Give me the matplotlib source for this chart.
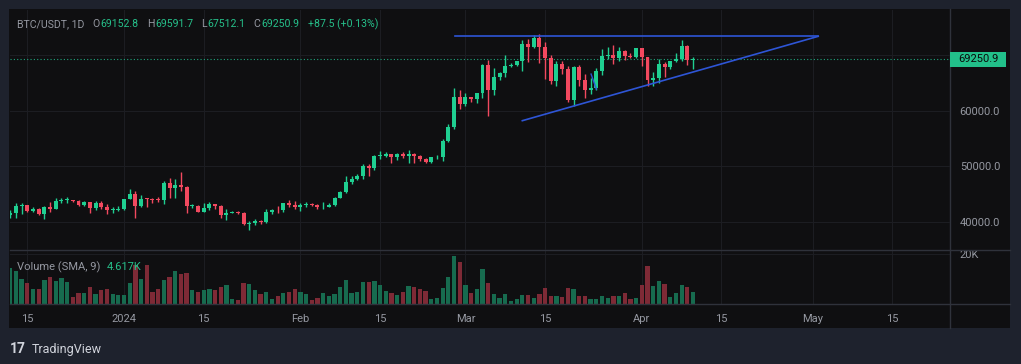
import pandas as pd
import matplotlib.pyplot as plt
import matplotlib.dates as mdates
import matplotlib.transforms as mtrans
from matplotlib.patches import Rectangle

plt.rcParams['font.family'] = ['Roboto', 'DejaVu Sans']

# daily candles, BTC/USDT, 2023-12-12 .. 2024-04-10
dates = pd.date_range('2023-12-12', '2024-04-10', freq='D')

opens = [41240, 41480, 42880, 43020, 41930, 42240, 41360, 42660, 42260, 43650,
         43860, 43990, 43730, 43010, 43580, 42510, 43450, 42580, 42070, 42140,
         42280, 44180, 44960, 42850, 44150, 44130, 43970, 43930, 46970, 46110,
         46630, 46340, 42780, 42840, 41730, 42510, 43140, 42760, 41260, 41620,
         41665, 41545, 39500, 39850, 40080, 39930, 41820, 42120, 42030, 43300,
         42940, 42580, 43080, 43200, 43010, 42580, 42660, 43090, 44340, 45290,
         47130, 47750, 48290, 49960, 49700, 51800, 51920, 52160, 51660, 52120,
         51780, 52280, 51840, 51300, 50730, 51570, 51730, 54480, 57040, 62430,
         61130, 62390, 62030, 63130, 68250, 63720, 66070, 66820, 68120, 68310,
         68950, 72100, 71450, 73070, 71390, 69500, 65300, 68390, 67550, 61930,
         67840, 65500, 63780, 64040, 67210, 69880, 69990, 69450, 70740, 69890,
         69640, 71330, 69700, 65460, 65960, 68500, 67840, 68900, 69360, 71620,
         69152.8]
highs = [42100, 43430, 43420, 43090, 42700, 42420, 42750, 43480, 44280, 44240,
         44400, 44000, 43950, 43800, 43600, 43680, 43800, 43120, 42600, 42900,
         44180, 45880, 45500, 44730, 44340, 44230, 44500, 47250, 47900, 47700,
         48970, 46500, 43260, 43070, 43400, 43570, 43200, 42930, 42200, 41870,
         41850, 41680, 40130, 40550, 40290, 42200, 42200, 42840, 43300, 43880,
         43750, 43290, 43480, 43380, 43120, 43500, 43400, 44380, 45610, 48200,
         48170, 48590, 50330, 50370, 52040, 52820, 52580, 52190, 52370, 52490,
         52990, 52380, 52030, 51550, 51680, 51950, 54940, 57550, 64000, 63680,
         63110, 62430, 63230, 68500, 69170, 67640, 67000, 70120, 68590, 69000,
         72800, 72900, 73650, 73777, 72360, 70040, 68900, 68900, 68100, 68100,
         68240, 66650, 65970, 67620, 71150, 71560, 71770, 71550, 70920, 70350,
         71370, 71370, 69700, 66900, 69290, 68720, 69000, 70330, 72800, 71760,
         69591.7]
lows = [40680, 40600, 41400, 41660, 41700, 41250, 40500, 41800, 42200, 43300,
        43400, 43580, 42750, 42760, 41650, 42100, 42300, 41300, 41520, 41960,
        42170, 44150, 40750, 42620, 42600, 43420, 43560, 43180, 44300, 44300,
        45600, 41500, 42440, 41720, 41720, 42050, 42200, 40680, 40280, 41500,
        41440, 39430, 38550, 39480, 39530, 39820, 41400, 41620, 41800, 42680,
        42280, 41880, 42580, 42890, 42220, 42260, 42570, 42790, 44330, 45240,
        46800, 47560, 47700, 48300, 49250, 51300, 51600, 50630, 51170, 51520,
        50520, 50620, 50930, 50530, 50590, 51280, 50900, 54450, 56690, 60360,
        60770, 61600, 61320, 62300, 59000, 62790, 65550, 66100, 67950, 68050,
        67200, 68800, 71330, 68550, 65630, 64780, 64520, 66600, 61500, 60770,
        64530, 62260, 63000, 63800, 66380, 69280, 68370, 68900, 69050, 69530,
        69550, 68060, 64500, 64490, 65070, 66010, 67450, 68850, 69040, 68210,
        67512.1]
closes = [41480, 42880, 43020, 41930, 42240, 41360, 42660, 42260, 43650, 43860,
          43990, 43730, 43010, 43580, 42510, 43450, 42580, 42070, 42140, 42280,
          44180, 44960, 42850, 44150, 44130, 43970, 43930, 46970, 46110, 46630,
          46340, 42780, 42840, 41730, 42510, 43140, 42760, 41260, 41620, 41665,
          41545, 39500, 39850, 40080, 39930, 41820, 42120, 42030, 43300, 42940,
          42580, 43080, 43200, 43010, 42580, 42660, 43090, 44340, 45290, 47130,
          47750, 48290, 49960, 49700, 51800, 51920, 52160, 51660, 52120, 51780,
          52280, 51840, 51300, 50730, 51570, 51730, 54480, 57040, 62430, 61130,
          62390, 62030, 63130, 68250, 63720, 66070, 66820, 68120, 68310, 68950,
          72100, 71450, 73070, 71390, 69500, 65300, 68390, 67550, 61930, 67840,
          65500, 63780, 64040, 67210, 69880, 69990, 69450, 70740, 69890, 69640,
          71330, 69700, 65460, 65960, 68500, 67840, 68900, 69360, 71620, 69150,
          69250.9]
# volume in thousands
volumes = [14.3, 13.2, 10.0, 8.4, 6.0, 6.0, 9.6, 10.9, 9.2, 10.3,
           8.8, 2.9, 4.4, 4.4, 6.7, 4.0, 5.5, 6.0, 4.0, 3.6,
           3.5, 8.5, 15.6, 10.0, 15.6, 4.7, 5.9, 9.5, 10.7, 13.3,
           11.9, 12.3, 5.5, 4.9, 5.5, 6.0, 5.5, 6.8, 7.6, 2.0,
           1.6, 8.3, 8.0, 5.6, 4.1, 4.9, 1.9, 3.2, 4.4, 4.7,
           5.9, 4.9, 4.1, 1.6, 2.5, 4.4, 3.3, 4.0, 6.8, 9.5,
           4.3, 4.8, 8.8, 8.8, 9.2, 7.6, 5.2, 4.3, 3.6, 4.7,
           7.2, 6.9, 5.9, 5.2, 2.1, 2.4, 6.4, 10.7, 19.2, 17.0,
           7.6, 4.5, 5.9, 14.0, 8.5, 4.0, 2.4, 3.9, 1.2, 2.0,
           3.6, 3.6, 2.4, 4.0, 6.4, 3.3, 3.3, 2.9, 6.4, 5.9,
           3.3, 3.3, 2.1, 1.9, 3.3, 2.4, 3.1, 3.1, 4.3, 1.9,
           2.4, 7.6, 15.2, 7.2, 9.2, 7.9, 2.8, 4.3, 7.6, 6.9,
           4.617]

tick_dates = ['2023-12-15', '2024-01-01', '2024-01-15', '2024-02-01', '2024-02-15',
              '2024-03-01', '2024-03-15', '2024-04-01', '2024-04-15', '2024-05-01',
              '2024-05-15']
tick_labels = ['15', '2024', '15', 'Feb', '15', 'Mar', '15', 'Apr', '15', 'May', '15']
price_ticks = [40000, 50000, 60000, 70000]
price_labels = ['40000.0', '50000.0', '60000.0', '']  # 70000.0 sits under the last-price tag

# drawn trend lines (triangle)
top_line_dates = ['2024-02-28 06:00', '2024-05-02 00:00']
top_line_prices = [73400, 73400]
low_line_dates = ['2024-03-11 00:00', '2024-05-02 00:00']
low_line_prices = [58200, 73400]
stray_line_dates = ['2024-03-23 02:00', '2024-03-24 00:00']
stray_line_prices = [66600, 63900]

UP = '#1fcf91'
DOWN = '#f2495f'
VUP = '#176b4f'
VDOWN = '#7e2a36'
GRID = '#1c1d22'
SEP = '#2f323b'
TXT = '#9598a1'
OUTER = '#1e222d'
PANEL = '#0f0f11'

W, H = 1021, 364
fig = plt.figure(figsize=(W / 100, H / 100), dpi=100, facecolor=OUTER)

# chart panel background
fig.patches.append(Rectangle((9 / W, 1 - 328 / H), 1001 / W, 319 / H,
                             transform=fig.transFigure, fc=PANEL, ec='none', zorder=-5))

ax = fig.add_axes([10 / W, 1 - 250 / H, 940 / W, 240 / H], zorder=2)
axv = fig.add_axes([10 / W, 1 - 304 / H, 940 / W, 54 / H], sharex=ax, zorder=1)

x = mdates.date2num(dates)
colors = [UP if c >= o else DOWN for o, c in zip(opens, closes)]
vcolors = [VUP if c >= o else VDOWN for o, c in zip(opens, closes)]
bottoms = [min(o, c) for o, c in zip(opens, closes)]
heights = [max(abs(c - o), 150) for o, c in zip(opens, closes)]

ax.vlines(x, lows, highs, colors=colors, lw=1.0, zorder=3)
ax.bar(x, heights, bottom=bottoms, width=0.7, color=colors, zorder=4)

axv.bar(x, volumes, width=0.75, color=vcolors, zorder=3)


def dnum(lst):
    return mdates.date2num(pd.to_datetime(lst, format='%Y-%m-%d %H:%M'))


# trend lines
ax.plot(dnum(top_line_dates), top_line_prices, color='#2e55d6', lw=1.2, zorder=5)
ax.plot(dnum(low_line_dates), low_line_prices, color='#2e55d6', lw=1.2, zorder=5)
ax.plot(dnum(stray_line_dates), stray_line_prices, color='#2e55d6', lw=1.0, zorder=5)

# last price line + label
last = closes[-1]
ax.axhline(last, color='#1fa57d', ls=(0, (1, 2)), lw=0.8, zorder=2)
blend = mtrans.blended_transform_factory(ax.transAxes, ax.transData)
ppx = (78144 - 34901) / 240
ax.add_patch(Rectangle((1.0, last - 7.5 * ppx), 56 / 940, 15 * ppx, transform=blend,
                       fc='#22c08a', ec='none', clip_on=False, zorder=10))
ax.text(1.0 + 28 / 940, last, f'{last:.1f}', transform=blend, ha='center', va='center',
        fontsize=8, color='#0b0b0b', zorder=11, clip_on=False)

# axes limits
left = mdates.date2num(pd.Timestamp('2023-12-15')) - 3.04
ax.set_xlim(left, left + 940 / 5.69)
ax.set_ylim(34901, 78144)
axv.set_ylim(0, 21.6)

for a in (ax, axv):
    a.patch.set_visible(False)
    for s in a.spines.values():
        s.set_visible(False)
    a.grid(True, color=GRID, lw=0.8, zorder=0)
    a.set_axisbelow(True)
    a.tick_params(length=0)

axv.set_xticks(dnum([d + ' 00:00' for d in tick_dates]))
axv.set_xticklabels(tick_labels)
axv.tick_params(axis='x', colors=TXT, labelsize=8, pad=7)
ax.tick_params(axis='x', labelbottom=False)

ax.set_yticks(price_ticks)
ax.set_yticklabels(price_labels)
ax.yaxis.tick_right()
ax.tick_params(axis='y', colors=TXT, labelsize=8, pad=7)

axv.set_yticks([20])
axv.set_yticklabels(['20K'])
axv.yaxis.tick_right()
axv.tick_params(axis='y', colors=TXT, labelsize=8, pad=7)

# separators
for yy in (250, 304):
    fig.add_artist(plt.Line2D([10 / W, 1010 / W], [1 - yy / H, 1 - yy / H],
                              color=SEP, lw=1.0))
fig.add_artist(plt.Line2D([950 / W, 950 / W], [1 - 9 / H, 1 - 328 / H], color=SEP, lw=1.0))


def ftext(px, py, s, **kw):
    kw.setdefault('fontsize', 8)
    return fig.text(px / W, 1 - py / H, s, va='center', ha='left', **kw)


def after(prev, s, gap, **kw):
    # place text right after the previous one
    kw.setdefault('fontsize', 8)
    return fig.add_artist(plt.Annotation(s, xy=(1, 0.5), xycoords=prev, xytext=(gap, 0),
                                         textcoords='offset pixels', va='center',
                                         ha='left', annotation_clip=False, **kw))


GREEN_T = '#26c08a'
HS = 7.6
t = ftext(17, 24, 'BTC/USDT, 1D', color=TXT, fontsize=HS)
for letter, val in [('O', '69152.8'), ('H', '69591.7'), ('L', '67512.1'), ('C', '69250.9')]:
    t = after(t, letter, 8, color=TXT, fontsize=HS)
    t = after(t, val, 1, color=GREEN_T, fontsize=HS)
after(t, '+87.5 (+0.13%)', 8, color=GREEN_T, fontsize=HS)

ftext(17, 267, 'Volume (SMA, 9)', color=TXT)
ftext(107, 267, f'{volumes[-1]:.3f}K', color=GREEN_T)

# footer logo
ftext(10, 349, '17', color='#d1d4dc', fontweight='bold', fontsize=10)
ftext(32, 349, 'TradingView', color='#d1d4dc', fontsize=9)

fig.savefig('out.png', dpi=100, facecolor=OUTER)
